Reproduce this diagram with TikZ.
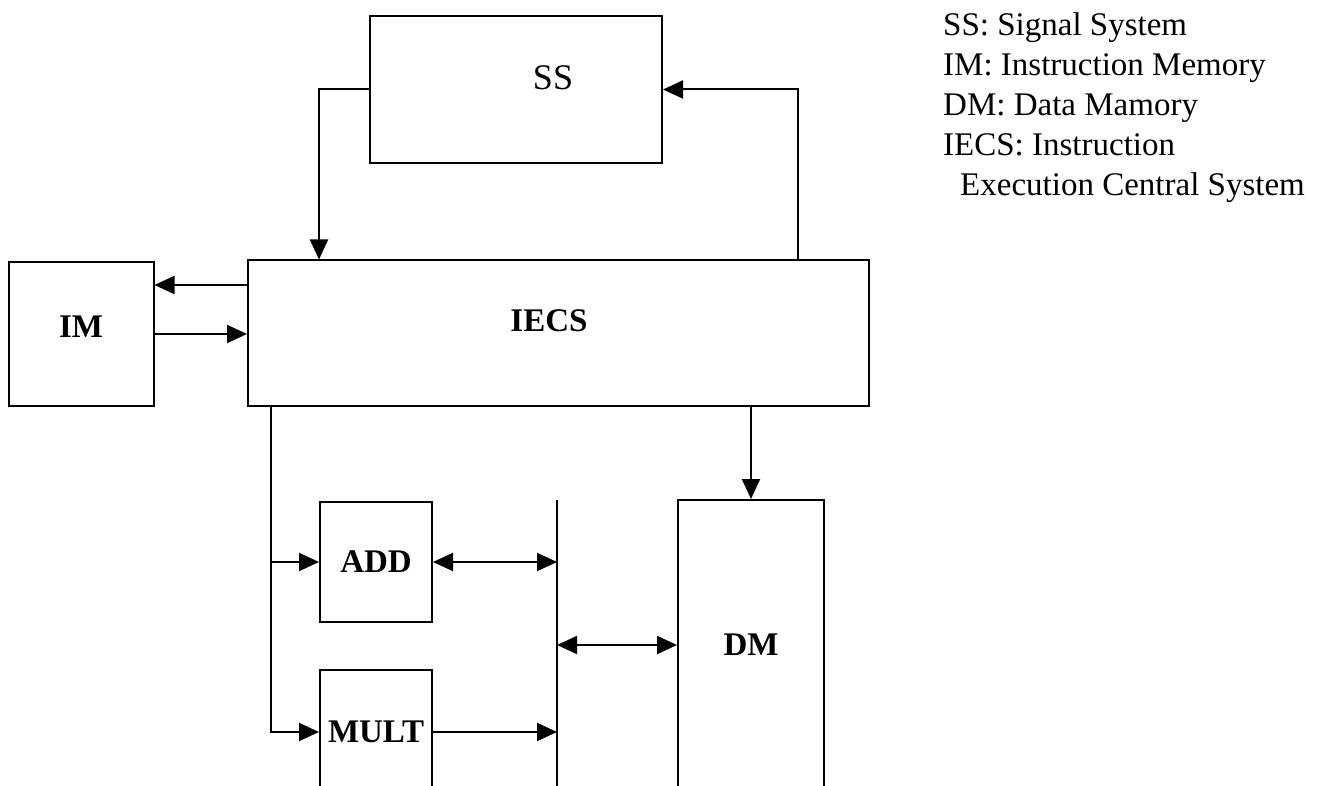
\documentclass[tikz,border=0pt]{standalone}
\usepackage{fontspec}
\setmainfont{Liberation Serif}
\usetikzlibrary{arrows.meta}

\begin{document}
\begin{tikzpicture}[x=1pt,y=-1pt,
    box/.style={draw,line width=2pt,inner sep=0pt,font=\fontsize{33}{40}\selectfont\bfseries},
    conn/.style={line width=2pt},
    arr/.style={conn,-{Triangle[length=20pt,width=18pt]}},
    darr/.style={conn,{Triangle[length=20pt,width=18pt]}-{Triangle[length=20pt,width=18pt]}},
    legend/.style={anchor=base west,inner sep=0pt,font=\fontsize{33}{40}\selectfont}]
  \useasboundingbox (0,0) rectangle (1335,786);
  \clip (0,0) rectangle (1335,786);

  % blocks
  \node[box,minimum width=292pt,minimum height=147pt,
        label={[xshift=37pt,yshift=11.5pt,font=\fontsize{36}{40}\selectfont]center:SS}] (ss) at (516,89.5) {};
  \node[box,minimum width=145pt,minimum height=144pt,text depth=14pt] (im) at (81,334) {IM};
  \node[box,minimum width=621pt,minimum height=145pt,
        label={[xshift=-9.5pt,yshift=12.5pt,font=\fontsize{33}{40}\selectfont\bfseries]center:IECS}] (iecs) at (558.5,333) {};
  \node[box,minimum width=112pt,minimum height=120pt] (add) at (376,562) {ADD};
  \node[box,minimum width=112pt,minimum height=124pt] (mult) at (376,732) {MULT};
  \node[box,minimum width=146pt,minimum height=290pt] (dm) at (751,645) {DM};

  % SS loop
  \coordinate (ssin) at ([xshift=72pt]iecs.north west);
  \coordinate (ssout) at ([xshift=-72pt]iecs.north east);
  \draw[arr] (ss.west) -| (ssin);
  \draw[arr] (ssout) |- (ss.east);

  % IM <-> IECS
  \coordinate (imtop) at ([yshift=49pt]im.east);
  \draw[arr] (imtop -| iecs.west) -- (imtop);
  \draw[arr] (im.east) -- (im.east -| iecs.west);

  % IECS to ADD and MULT
  \coordinate (tap) at ([xshift=24pt]iecs.south west);
  \draw[arr] (tap) |- (mult.west);
  \draw[arr] (tap |- add.west) -- (add.west);

  % bus
  \coordinate (bustop) at (557,500);
  \coordinate (busend) at (557,800);
  \draw[conn] (bustop) -- (busend);
  \draw[darr] (add.east) -- (add.east -| bustop);
  \draw[arr] (mult.east) -- (mult.east -| bustop);
  \draw[darr] (dm.west -| bustop) -- (dm.west);
  \draw[arr] (iecs.south -| dm.north) -- (dm.north);

  % legend
  \node[legend] (lss) at (943,36) {SS: Signal System};
  \node[legend] (lim) at (943,76) {IM: Instruction Memory};
  \node[legend] (ldm) at (943,116) {DM: Data Mamory};
  \node[legend] (liecs) at (943,156) {IECS: Instruction};
  \node[legend] (lexec) at (960,196) {Execution Central System};
\end{tikzpicture}
\end{document}
